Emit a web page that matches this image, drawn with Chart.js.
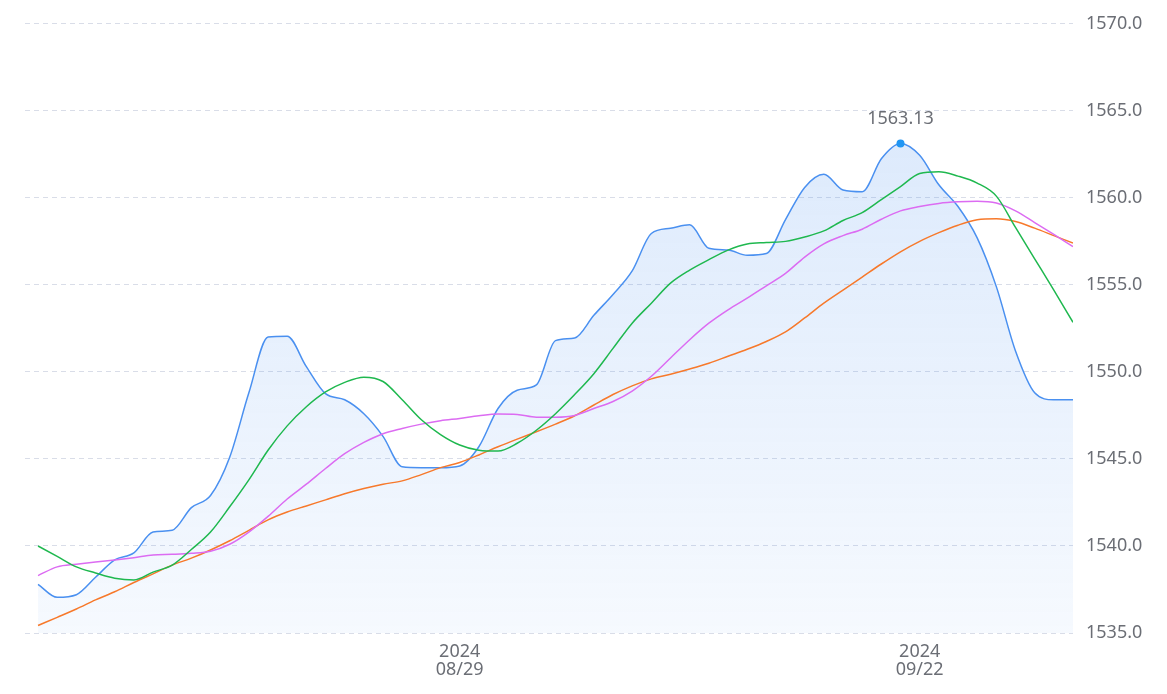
<!DOCTYPE html>
<html>
<head>
<meta charset="utf-8">
<script src="https://cdn.jsdelivr.net/npm/chart.js@4.4.0/dist/chart.umd.min.js"></script>
<style>
  html, body { margin: 0; padding: 0; background: #fff; }
</style>
</head>
<body>
<canvas id="price-chart" width="1167" height="694"></canvas>
<script>
  const dates = [
    "08/07", "08/08", "08/09", "08/10", "08/11", "08/12", "08/13", "08/14", "08/15", "08/16",
    "08/17", "08/18", "08/19", "08/20", "08/21", "08/22", "08/23", "08/24", "08/25", "08/26",
    "08/27", "08/28", "08/29", "08/30", "08/31", "09/01", "09/02", "09/03", "09/04", "09/05",
    "09/06", "09/07", "09/08", "09/09", "09/10", "09/11", "09/12", "09/13", "09/14", "09/15",
    "09/16", "09/17", "09/18", "09/19", "09/20", "09/21", "09/22", "09/23", "09/24", "09/25",
    "09/26", "09/27", "09/28", "09/29", "09/30",
  ];
  const xTickDates = ["08/29", "09/22"];
  const tickYear = "2024";

  const price = [
    1537.8, 1537.05, 1537.2, 1538.2, 1539.2, 1539.6, 1540.8, 1540.9, 1542.2, 1542.9,
    1545.1, 1548.8, 1552.0, 1552.05, 1550.3, 1548.75, 1548.4, 1547.6, 1546.3, 1544.55,
    1544.5, 1544.5, 1544.6, 1545.7, 1547.9, 1548.95, 1549.25, 1551.8, 1551.95, 1553.25,
    1554.45, 1555.8, 1557.95, 1558.25, 1558.45, 1557.1, 1557.0, 1556.7, 1556.8, 1558.75,
    1560.6, 1561.35, 1560.45, 1560.35, 1562.25, 1563.13, 1562.45, 1560.75, 1559.5, 1557.7,
    1554.9, 1551.2, 1548.8, 1548.4, 1548.4,
  ];
  const ma5 = [
    1540.0, 1539.4, 1538.8, 1538.45, 1538.15, 1538.05, 1538.5, 1538.9, 1539.8, 1540.8,
    1542.25, 1543.8, 1545.5, 1546.9, 1548.0, 1548.85, 1549.4, 1549.7, 1549.45, 1548.4,
    1547.25, 1546.4, 1545.8, 1545.5, 1545.45, 1545.9, 1546.65, 1547.6, 1548.7, 1549.9,
    1551.35, 1552.8, 1553.95, 1555.1, 1555.85, 1556.45, 1557.0, 1557.35, 1557.43, 1557.5,
    1557.75, 1558.1, 1558.7, 1559.15, 1559.9, 1560.65, 1561.4, 1561.5, 1561.25, 1560.85,
    1560.1, 1558.3, 1556.5, 1554.7, 1552.85,
  ];
  const ma10 = [
    1538.3, 1538.8, 1538.95, 1539.08, 1539.2, 1539.33, 1539.48, 1539.52, 1539.58, 1539.7,
    1540.1, 1540.8, 1541.7, 1542.7, 1543.55, 1544.45, 1545.3, 1545.95, 1546.45, 1546.75,
    1547.0, 1547.2, 1547.33, 1547.48, 1547.58, 1547.56, 1547.4, 1547.4, 1547.5, 1547.9,
    1548.3, 1548.9, 1549.75, 1550.8, 1551.85, 1552.8, 1553.57, 1554.24, 1554.95, 1555.66,
    1556.6, 1557.36, 1557.83, 1558.2, 1558.77, 1559.25, 1559.5, 1559.68, 1559.77, 1559.8,
    1559.7, 1559.25, 1558.58, 1557.9, 1557.2,
  ];
  const ma20 = [
    1535.43, 1535.9, 1536.38, 1536.9, 1537.37, 1537.9, 1538.4, 1538.9, 1539.3, 1539.77,
    1540.3, 1540.9, 1541.5, 1541.95, 1542.3, 1542.65, 1543.0, 1543.3, 1543.55, 1543.74,
    1544.1, 1544.5, 1544.8, 1545.23, 1545.7, 1546.14, 1546.56, 1547.0, 1547.48, 1548.1,
    1548.7, 1549.2, 1549.6, 1549.87, 1550.17, 1550.5, 1550.9, 1551.3, 1551.75, 1552.3,
    1553.1, 1553.95, 1554.7, 1555.45, 1556.2, 1556.9, 1557.5, 1558.0, 1558.43, 1558.74,
    1558.8, 1558.64, 1558.26, 1557.83, 1557.4,
  ];

  const colors = {
    price: "#4a90f0",
    peak: "#2196f3",
    ma5: "#1fb84f",
    ma10: "#dc6cf2",
    ma20: "#f7792b",
    grid: "#d9dde8",
    text: "#6b6e75",
  };
  const font = { family: "'Noto Sans', 'Open Sans', sans-serif", size: 18 };

  const toPoints = (arr) => arr.map((v, i) => ({ x: i, y: v }));
  const peakIdx = price.indexOf(Math.max(...price));

  // area under the price line, fading downwards
  function areaFill(context) {
    const chart = context.chart;
    const area = chart.chartArea;
    if (!area) return "rgba(74,144,240,0.12)";
    const g = chart.ctx.createLinearGradient(0, area.top, 0, area.bottom);
    g.addColorStop(0, "rgba(74,144,240,0.22)");
    g.addColorStop(1, "rgba(74,144,240,0.05)");
    return g;
  }

  const peakLabel = {
    id: "peakLabel",
    afterDatasetsDraw(chart) {
      const ctx = chart.ctx;
      const x = chart.scales.x.getPixelForValue(peakIdx);
      const y = chart.scales.y.getPixelForValue(price[peakIdx]);
      ctx.save();
      ctx.font = `${font.size}px ${font.family}`;
      ctx.fillStyle = colors.text;
      ctx.textAlign = "center";
      ctx.textBaseline = "alphabetic";
      ctx.fillText(price[peakIdx].toFixed(2), x, y - 19);
      ctx.restore();
    },
  };

  const lineBase = {
    borderWidth: 1.5,
    pointRadius: 0,
    cubicInterpolationMode: "monotone",
    fill: false,
  };

  new Chart(document.getElementById("price-chart").getContext("2d"), {
    type: "line",
    data: {
      datasets: [
        { ...lineBase, label: "MA5", data: toPoints(ma5), borderColor: colors.ma5, order: 1 },
        { ...lineBase, label: "MA10", data: toPoints(ma10), borderColor: colors.ma10, order: 2 },
        { ...lineBase, label: "MA20", data: toPoints(ma20), borderColor: colors.ma20, order: 3 },
        {
          ...lineBase,
          label: "Price",
          data: toPoints(price),
          borderColor: colors.price,
          backgroundColor: areaFill,
          fill: "start",
          order: 4,
          pointRadius: (c) => (c.dataIndex === peakIdx ? 4 : 0),
          pointBackgroundColor: colors.peak,
          pointBorderWidth: 0,
        },
      ],
    },
    options: {
      responsive: false,
      animation: false,
      layout: { padding: { left: 25, top: 20, right: 0, bottom: 0 } },
      scales: {
        x: {
          type: "linear",
          min: -0.68,
          max: dates.length - 1,
          grid: { display: false },
          border: { display: false },
          afterFit: (axis) => { axis.height = 61; },
          afterBuildTicks: (axis) => {
            axis.ticks = xTickDates.map((d) => ({ value: dates.indexOf(d) }));
          },
          ticks: {
            autoSkip: false,
            maxRotation: 0,
            padding: 2,
            color: colors.text,
            font: { ...font, lineHeight: 1.0 },
            callback: (v) => [tickYear, dates[v]],
          },
        },
        y: {
          position: "right",
          min: 1535,
          max: 1570,
          afterFit: (axis) => { axis.width = 94; },
          grid: {
            color: colors.grid,
            drawTicks: false,
            lineWidth: 1,
          },
          border: { display: false, dash: [5, 4] },
          ticks: {
            stepSize: 5,
            padding: 13,
            color: colors.text,
            font: font,
            callback: (v) => v.toFixed(1),
          },
        },
      },
      plugins: {
        legend: { display: false },
        tooltip: { enabled: false },
      },
    },
    plugins: [peakLabel],
  });
</script>
</body>
</html>
